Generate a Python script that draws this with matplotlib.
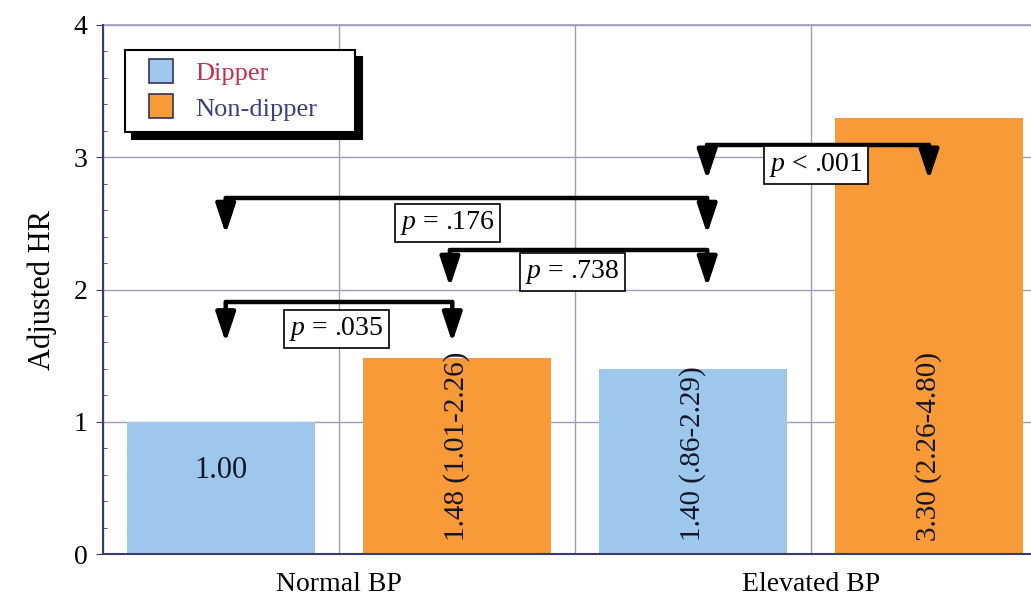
import numpy as np
import matplotlib.pyplot as plt
from matplotlib.lines import Line2D

plt.rcParams['font.family'] = ['Liberation Serif', 'DejaVu Serif']
plt.rcParams['mathtext.fontset'] = 'custom'
plt.rcParams['mathtext.rm'] = 'Liberation Serif'
plt.rcParams['mathtext.it'] = 'Liberation Serif:italic'

# data
groups = ['Normal BP', 'Elevated BP']
series = ['Dipper', 'Non-dipper']
dipper_hr = [1.00, 1.40]
nondipper_hr = [1.48, 3.30]
bar_labels = ['1.00', '1.48 (1.01-2.26)', '1.40 (.86-2.29)', '3.30 (2.26-4.80)']

# pairwise comparisons
p_labels = ['$p$ = .035', '$p$ = .176', '$p$ = .738', '$p$ < .001']
br_x1 = [0.52, 0.52, 1.47, 2.56]
br_x2 = [1.48, 2.56, 2.56, 3.50]
br_top = [1.906, 2.692, 2.298, 3.093]
br_tip = [1.60, 2.42, 2.02, 2.83]
p_x = [0.99, 1.46, 1.99, 3.02]
p_y = [1.70, 2.50, 2.13, 2.94]

blue = '#9dc8eb'
orange = '#f89a38'
grid_c = '#9c9cbc'
axis_c = '#3c3c6c'

fig = plt.figure(figsize=(10.31, 5.96), dpi=100)
ax = fig.add_axes([103 / 1031, 1 - 554 / 596, 1 - 103 / 1031, (554 - 25) / 596])

xd = np.arange(len(groups)) * 2 + 0.5
xn = xd + 1
ax.bar(xd, dipper_hr, width=0.8, color=blue, zorder=2)
ax.bar(xn, nondipper_hr, width=0.8, color=orange, zorder=2)

xs = [xd[0], xn[0], xd[1], xn[1]]
ax.text(xs[0], 0.63, bar_labels[0], ha='center', va='center', fontsize=22,
        color='#15152a', zorder=3)
for x, lab in zip(xs[1:], bar_labels[1:]):
    ax.text(x, 0.1, lab, rotation=90, rotation_mode='anchor', ha='left',
            va='center', fontsize=21, color='#15152a', zorder=3)

# brackets with arrows
for x1, x2, top, tip in zip(br_x1, br_x2, br_top, br_tip):
    ax.plot([x1, x2], [top, top], color='black', lw=3.2, zorder=4,
            solid_capstyle='round')
    for x in (x1, x2):
        ax.annotate('', xy=(x, tip), xytext=(x, top),
                    arrowprops=dict(arrowstyle='-|>,head_length=0.9,head_width=0.3',
                                    mutation_scale=20, color='black', lw=3.2,
                                    shrinkA=0, shrinkB=0),
                    zorder=4)
for x, y, lab in zip(p_x, p_y, p_labels):
    ax.text(x, y, lab, ha='center', va='center', fontsize=20, zorder=5,
            bbox=dict(boxstyle='square,pad=0.18', fc='white', ec='black', lw=1.2))

ax.set_xlim(0, (1031 - 103) / 236)
ax.set_ylim(0, 4)
ax.set_xticks(np.arange(4))
ax.set_xticklabels(['', groups[0], '', groups[1]], fontsize=20)
ax.tick_params(axis='x', length=0, pad=13)
ax.set_xticks(np.arange(0, 3.9, 0.2), minor=True)
ax.tick_params(axis='x', which='minor', direction='in', length=2, color=axis_c)
ax.set_yticks(np.arange(5))
ax.tick_params(axis='y', labelsize=20, direction='out', length=5, color=axis_c, pad=6)
ax.set_yticks(np.arange(0, 4, 0.2), minor=True)
ax.tick_params(axis='y', which='minor', direction='in', length=3, color=axis_c)
ax.grid(True, color=grid_c, lw=1, zorder=0)
ax.set_axisbelow(True)
for s in ['top', 'right']:
    ax.spines[s].set_visible(False)
for s in ['left', 'bottom']:
    ax.spines[s].set_color(axis_c)
    ax.spines[s].set_linewidth(1.5)
ax.axhline(4, color=grid_c, lw=1.2, clip_on=False, zorder=0)
ax.set_ylabel('Adjusted HR', fontsize=22, labelpad=12)

handles = [Line2D([], [], ls='none', marker='s', markersize=17, markerfacecolor=c,
                  markeredgecolor='#333355', markeredgewidth=1.2)
           for c in (blue, orange)]
leg = ax.legend(handles, series, loc='upper left',
                bbox_to_anchor=(0.024, 0.5, 0.248, 0.453), mode='expand',
                fontsize=19, frameon=True, fancybox=False, edgecolor='black',
                framealpha=1, shadow={'color': 'black', 'alpha': 1, 'ox': 5, 'oy': -5},
                handlelength=1.8, borderpad=0.45,
                labelspacing=0.45, handletextpad=0.4, borderaxespad=0)
leg.get_frame().set_linewidth(1.5)
leg.set_zorder(6)
for t, c in zip(leg.get_texts(), ['#c8304a', '#3c4080']):
    t.set_color(c)

fig.savefig('out.png', dpi=100)
